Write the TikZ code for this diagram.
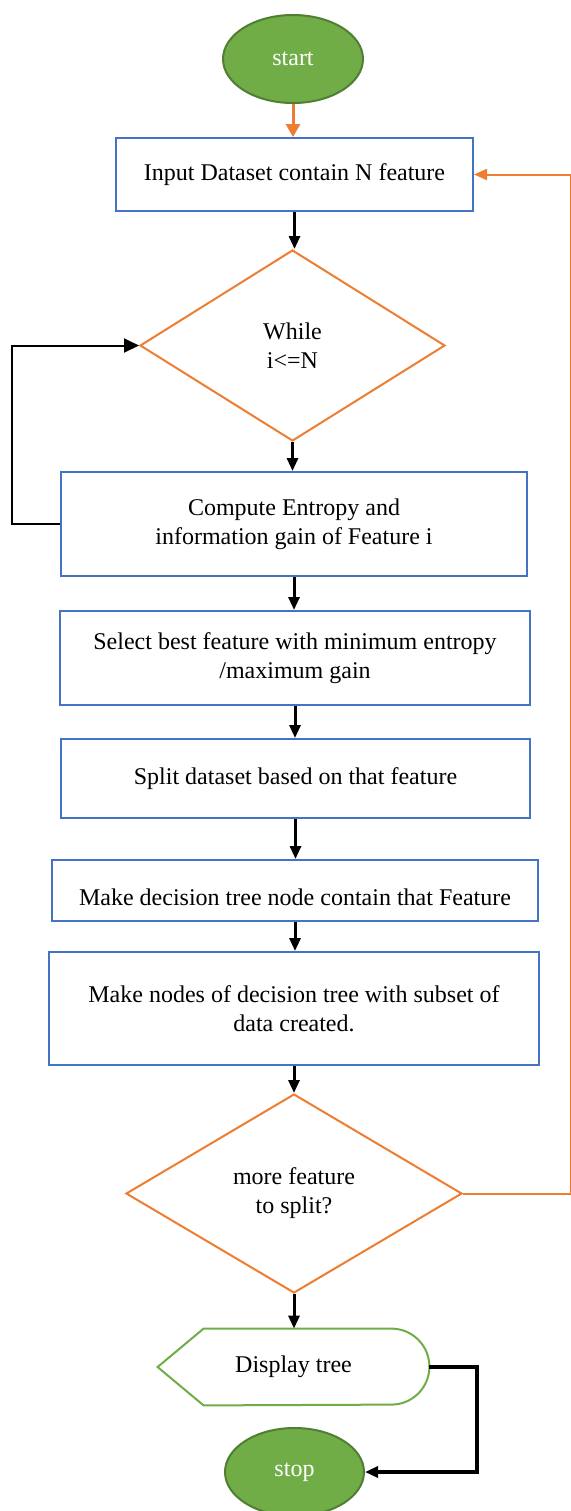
\documentclass[tikz,border=0pt]{standalone}
\usepackage{fontspec}
\setmainfont{Liberation Serif}
\usetikzlibrary{arrows.meta,calc,positioning,shapes.geometric}
\definecolor{fcblue}{HTML}{4472C4}
\definecolor{fcorange}{HTML}{ED7D31}
\definecolor{fcgreen}{HTML}{70AD47}
\definecolor{fcdkgreen}{HTML}{507E32}

\begin{document}
\begin{tikzpicture}[x=0.5pt,y=0.5pt,
 font=\fontsize{12}{14.5}\selectfont,
 termnode/.style={ellipse,draw=fcdkgreen,line width=1pt,fill=fcgreen,text=white,minimum width=70pt,minimum height=44pt,inner sep=0pt},
 procbox/.style={draw=fcblue,line width=1pt,fill=white,align=center,inner sep=0pt},
 decbox/.style={diamond,draw=fcorange,line width=1pt,fill=white,align=center,inner sep=0pt},
 flowarrow/.style={-{Triangle[length=6.5pt,width=5.5pt]},line width=1.5pt,draw=black},
 startarrow/.style={-{Triangle[length=6.5pt,width=7pt]},line width=1.5pt,draw=fcorange},
 backarrow/.style={-{Triangle[length=6.5pt,width=5.5pt]},line width=1pt,draw=fcorange}
]
\useasboundingbox (0,0) rectangle (571,-1511);
\node[termnode] (start) at (293,-59) {start};
\node[procbox,minimum width=178.5pt,minimum height=36.5pt] (input) at (294.5,-174.5)
  {Input Dataset contain N feature};
\node[decbox,minimum width=152.5pt,minimum height=95.5pt] (while) at (292.5,-345.5)
  {While\\i<=N};
\node[procbox,minimum width=233pt,minimum height=52pt] (comp) at (294,-524)
  {Compute Entropy and\\information gain of Feature i};
\node[procbox,minimum width=235pt,minimum height=47pt] (best) at (295,-658)
  {Select best feature with minimum entropy\\/maximum gain};
\node[procbox,minimum width=234.5pt,minimum height=39.5pt] (split) at (295.5,-778.5)
  {Split dataset based on that feature};
\node[procbox,minimum width=243pt,minimum height=30.5pt] (treenode) at (295,-890.5)
  {\raisebox{-4.5pt}[8.5pt][2.5pt]{Make decision tree node contain that Feature}};
\node[procbox,minimum width=245pt,minimum height=56.5pt] (subnodes) at (294,-1008.5)
  {Make nodes of decision tree with subset of\\data created.};
\node[decbox,minimum width=168pt,minimum height=99.5pt] (more) at (294,-1193.5)
  {more feature\\to split?};
\node[minimum width=135.5pt,minimum height=38pt,inner sep=0pt] (disp) at (293.5,-1367)
  {Display tree};
\node[termnode,minimum width=69.5pt] (stop) at (294.5,-1472) {stop};
% display outline
\draw[draw=fcgreen,line width=1pt] (disp.west) -- ($(disp.north west)+(46,0)$)
  -- ($(disp.north east)+(-38,0)$) arc[start angle=90,end angle=-90,radius=38]
  -- ($(disp.south west)+(46,0)$) -- cycle;
% main flow
\draw[startarrow] (start.south) -- (start.south |- input.north);
\draw[flowarrow] (input.south) -- (input.south |- while.north);
\draw[flowarrow] (while.south) -- (while.south |- comp.north);
\draw[flowarrow] (comp.south) -- (comp.south |- best.north);
\draw[flowarrow] (best.south) -- (best.south |- split.north);
\draw[flowarrow] (split.south) -- (split.south |- treenode.north);
\draw[flowarrow] (treenode.south) -- (treenode.south |- subnodes.north);
\draw[flowarrow] (subnodes.south) -- (subnodes.south |- more.north);
\draw[flowarrow] (more.south) -- (more.south |- disp.north);
% loops
\draw[-{Triangle[length=7.5pt,width=7pt]},line width=1pt] (comp.west) -- ++(-48,0) |- (while.west);
\draw[backarrow] (more.east) -- ++(108,0) |- (input.east);
\draw[flowarrow,line width=2pt] (disp.east) -- ++(48,0) |- (stop.east);
\end{tikzpicture}
\end{document}
